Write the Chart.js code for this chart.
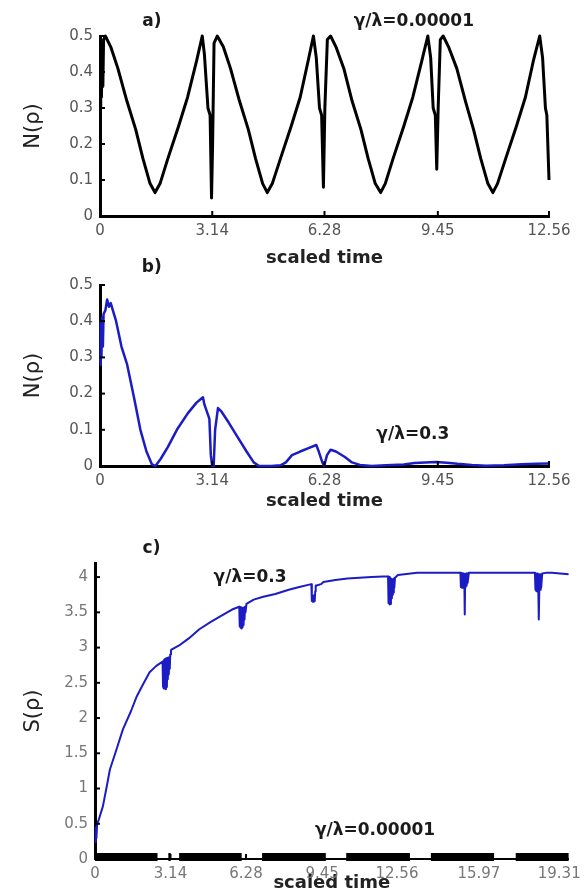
<!DOCTYPE html>
<html>
<head>
<meta charset="utf-8">
<script src="https://cdn.jsdelivr.net/npm/chart.js@4/dist/chart.umd.min.js"></script>
<style>
  html,body{margin:0;padding:0;background:#fff;}
  #wrap{position:relative;width:587px;height:892px;overflow:hidden;background:#fff;}
  canvas{position:absolute;left:0;}
</style>
</head>
<body>
<div id="wrap">
  <canvas id="ca" width="587" height="270" style="top:0px"></canvas>
  <canvas id="cb" width="587" height="260" style="top:255px"></canvas>
  <canvas id="cc" width="587" height="377" style="top:515px"></canvas>
</div>
<script>
// ---------- DATA ----------
// Panel a) gamma/lambda = 0.00001  (scaled time, N(rho))
const tA = [0.00,0.02,0.04,0.06,0.08,0.10,0.15,0.30,0.50,0.75,1.00,1.20,1.40,1.54,1.68,1.90,2.20,2.45,2.70,2.86,2.92,3.02,3.08,3.12,3.15,3.19,3.28,
            3.45,3.65,3.90,4.15,4.35,4.55,4.68,4.82,5.05,5.35,5.60,5.82,5.97,6.05,6.14,6.20,6.25,6.29,6.36,6.45,
            6.60,6.82,7.05,7.30,7.50,7.70,7.85,7.98,8.20,8.50,8.75,9.00,9.17,9.25,9.32,9.38,9.42,9.46,9.52,9.60,
            9.75,9.98,10.22,10.45,10.65,10.85,10.99,11.12,11.35,11.65,11.90,12.12,12.30,12.38,12.46,12.50,12.56];
const nA = [0.30,0.44,0.33,0.47,0.36,0.49,0.50,0.47,0.41,0.32,0.24,0.16,0.09,0.065,0.09,0.16,0.25,0.33,0.43,0.50,0.45,0.30,0.28,0.05,0.20,0.48,0.50,
            0.47,0.41,0.32,0.24,0.16,0.09,0.065,0.09,0.16,0.25,0.33,0.43,0.50,0.44,0.30,0.28,0.08,0.30,0.49,0.50,
            0.47,0.41,0.32,0.24,0.16,0.09,0.065,0.09,0.16,0.25,0.33,0.43,0.50,0.44,0.30,0.28,0.13,0.30,0.49,0.50,
            0.47,0.41,0.32,0.24,0.16,0.09,0.065,0.09,0.16,0.25,0.33,0.43,0.50,0.44,0.30,0.28,0.10];

// Panel b) gamma/lambda = 0.3  (scaled time, N(rho))
const tB = [0.00,0.02,0.04,0.06,0.08,0.10,0.15,0.20,0.25,0.30,0.45,0.60,0.76,0.95,1.13,1.30,1.45,1.55,1.70,1.90,2.15,2.46,2.70,2.88,2.92,3.06,3.10,3.14,3.18,3.22,3.30,3.40,3.60,3.85,4.10,4.30,4.45,4.80,5.05,5.20,5.37,5.60,5.85,6.05,6.12,6.22,6.27,6.35,6.45,6.60,6.85,7.05,7.27,7.60,8.00,8.50,8.80,9.10,9.40,9.70,10.00,10.40,10.80,11.30,11.80,12.20,12.56];
const nB = [0.28,0.40,0.30,0.41,0.33,0.42,0.43,0.46,0.44,0.45,0.40,0.33,0.28,0.19,0.10,0.04,0.005,0.0,0.02,0.053,0.10,0.146,0.175,0.19,0.17,0.13,0.03,0.0,0.0,0.10,0.16,0.15,0.12,0.08,0.04,0.01,0.0,0.0,0.002,0.01,0.03,0.04,0.05,0.058,0.04,0.01,0.0,0.03,0.045,0.04,0.025,0.01,0.003,0.0,0.002,0.004,0.008,0.010,0.011,0.009,0.006,0.003,0.001,0.002,0.005,0.006,0.007];

// Panel c) S(rho), gamma/lambda = 0.3 (blue)
const tC = [0.00,0.03,0.06,0.09,0.15,0.33,0.50,0.62,0.90,1.16,1.50,1.74,2.00,2.27,2.55,
            2.81,2.83,2.85,2.87,2.89,2.91,2.93,2.95,2.97,2.99,3.01,3.03,3.05,3.07,3.09,3.11,3.13,3.16,3.18,
            3.50,3.90,4.34,4.80,5.30,5.70,
            6.00,6.02,6.04,6.06,6.08,6.10,6.12,6.14,6.16,6.18,6.20,6.22,6.24,6.26,6.30,
            6.60,7.00,7.50,8.06,8.50,
            9.00,9.02,9.04,9.06,9.08,9.10,9.12,9.14,9.16,9.18,9.22,
            9.40,9.50,10.00,10.50,11.00,11.50,12.00,
            12.19,12.21,12.23,12.25,12.27,12.29,12.31,12.33,12.35,12.37,12.39,12.41,12.43,12.45,12.48,12.60,
            13.40,14.50,
            15.20,15.22,15.24,15.26,15.28,15.30,15.32,15.34,15.36,15.38,15.40,15.42,15.44,15.46,15.48,15.50,15.55,
            16.50,17.50,
            18.30,18.32,18.34,18.36,18.38,18.40,18.42,18.44,18.46,18.48,18.50,18.52,18.54,18.56,18.60,18.75,
            19.00,19.70];
const sC = [0.24,0.45,0.30,0.50,0.55,0.75,1.05,1.27,1.56,1.84,2.10,2.31,2.48,2.65,2.74,
            2.80,2.45,2.82,2.42,2.83,2.42,2.84,2.41,2.85,2.44,2.85,2.55,2.86,2.62,2.86,2.70,2.90,2.96,2.97,
            3.03,3.13,3.26,3.36,3.46,3.54,
            3.58,3.30,3.57,3.28,3.57,3.27,3.56,3.29,3.56,3.32,3.57,3.40,3.58,3.50,3.62,
            3.68,3.72,3.76,3.82,3.86,
            3.90,3.66,3.74,3.65,3.74,3.65,3.74,3.66,3.80,3.88,3.88,
            3.90,3.93,3.96,3.98,3.99,4.00,4.01,
            4.01,3.63,4.00,3.61,3.99,3.62,3.98,3.70,3.97,3.75,3.97,3.78,3.98,3.85,3.99,4.03,
            4.06,4.06,
            4.06,3.86,4.05,3.85,4.05,3.85,4.05,3.86,4.04,3.47,4.04,3.86,4.05,3.88,4.05,3.92,4.06,
            4.06,4.06,
            4.06,3.82,4.05,3.80,4.05,3.80,4.05,3.81,3.40,3.82,4.04,3.82,4.04,3.85,4.05,4.06,
            4.06,4.04];

// Panel c) S(rho), gamma/lambda = 0.00001 (black band near zero; null = gap)
const tK = [0.0,2.6,2.8,3.05,3.15,3.3,3.5,6.1,6.5,6.95,9.6,10.0,10.45,13.1,13.5,13.97,16.6,17.0,17.5,19.7];
const sK = [0.03,0.03,null,0.03,0.03,null,0.03,0.03,null,0.03,0.03,null,0.03,0.03,null,0.03,0.03,null,0.03,0.03];

// Tick values and labels
const xTicksAB = [0, 3.14, 6.28, 9.45, 12.56];
const xLabelsAB = ['0', '3.14', '6.28', '9.45', '12.56'];
const yTicksAB = [0, 0.1, 0.2, 0.3, 0.4, 0.5];
const yLabelsAB = ['0', '0.1', '0.2', '0.3', '0.4', '0.5'];
const xTicksC = [0, 3.14, 6.28, 9.45, 12.56, 15.97, 19.31];
const xLabelsC = ['0', '3.14', '6.28', '9.45', '12.56', '15.97', '19.31'];
const yTicksC = [0, 0.5, 1, 1.5, 2, 2.5, 3, 3.5, 4];
const yLabelsC = ['0', '0.5', '1', '1.5', '2', '2.5', '3', '3.5', '4'];

// Text labels (text, anchored at data coordinates)
const notesA = [{text: 'a)', x: 1.45, y: 0.539}, {text: 'γ/λ=0.00001', x: 8.78, y: 0.539}];
const notesB = [{text: 'b)', x: 1.45, y: 0.547}, {text: 'γ/λ=0.3', x: 8.75, y: 0.086}];
const notesC = [{text: 'c)', x: 2.35, y: 4.4}, {text: 'γ/λ=0.3', x: 6.45, y: 4.0}, {text: 'γ/λ=0.00001', x: 11.65, y: 0.40}];

// ---------- RENDERING ----------
const FONT = "'DejaVu Sans', Arial, sans-serif";
const pts = (xs, ys) => xs.map((x, i) => ({x: x, y: ys[i]}));

const notesPlugin = {
  id: 'notes',
  afterDraw(chart, args, opts) {
    const ctx = chart.ctx, xs = chart.scales.x, ys = chart.scales.y;
    ctx.save();
    // inward tick marks
    ctx.strokeStyle = '#000';
    ctx.lineWidth = 2;
    const b = chart.chartArea;
    xs.ticks.forEach(t => {
      if (t.value === 0) return;
      const px = xs.getPixelForValue(t.value);
      ctx.beginPath(); ctx.moveTo(px, b.bottom); ctx.lineTo(px, b.bottom - 5); ctx.stroke();
    });
    ys.ticks.forEach(t => {
      if (t.value === 0) return;
      const py = ys.getPixelForValue(t.value);
      ctx.beginPath(); ctx.moveTo(b.left, py); ctx.lineTo(b.left + 5, py); ctx.stroke();
    });
    // text notes
    (opts.items || []).forEach(n => {
      ctx.font = 'bold ' + (n.size || opts.size || 18) + 'px ' + FONT;
      ctx.fillStyle = opts.color || '#222';
      ctx.textAlign = 'center';
      ctx.textBaseline = 'middle';
      ctx.fillText(n.text, xs.getPixelForValue(n.x), ys.getPixelForValue(n.y));
    });
    ctx.restore();
  }
};

function makeChart(id, cfg) {
  const xTicks = cfg.xTicks, xLabels = cfg.xLabels, yTicks = cfg.yTicks, yLabels = cfg.yLabels;
  return new Chart(document.getElementById(id), {
    type: 'line',
    data: {datasets: cfg.datasets},
    options: {
      responsive: false,
      animation: false,
      devicePixelRatio: 1,
      layout: {padding: cfg.padding},
      plugins: {legend: {display: false}, tooltip: {enabled: false}, title: {display: false},
                notes: {items: cfg.notes, size: cfg.noteSize, color: cfg.noteColor}},
      elements: {point: {radius: 0}, line: {tension: 0, borderJoinStyle: 'round'}},
      scales: {
        x: {
          type: 'linear', min: cfg.xMin, max: cfg.xMax,
          afterBuildTicks: s => { s.ticks = xTicks.map(v => ({value: v})); },
          afterFit: s => { s.height = cfg.xHeight; },
          grid: {display: false, drawTicks: false},
          border: {display: true, color: '#000', width: cfg.xBorder},
          ticks: {autoSkip: false, maxRotation: 0, padding: 6, color: cfg.tickColor,
                  font: {family: FONT, size: 15},
                  callback: (v, i) => xLabels[i]},
          title: {display: true, text: 'scaled time', color: '#222', padding: {top: 0, bottom: 0},
                  font: {family: FONT, size: 18, weight: 'bold', lineHeight: 1.0}}
        },
        y: {
          type: 'linear', min: cfg.yMin, max: cfg.yMax,
          afterBuildTicks: s => { s.ticks = yTicks.map(v => ({value: v})); },
          afterFit: s => { s.width = cfg.yWidth; },
          grid: {display: false, drawTicks: false},
          border: {display: true, color: '#000', width: 3},
          ticks: {autoSkip: false, padding: 7, color: cfg.tickColor,
                  font: {family: FONT, size: 15},
                  callback: (v, i) => yLabels[i]},
          title: {display: true, text: cfg.yTitle, color: '#222', padding: {top: 23, bottom: 0},
                  font: {family: FONT, size: 21, lineHeight: 1.0}}
        }
      }
    },
    plugins: [notesPlugin]
  });
}

makeChart('ca', {
  datasets: [{data: pts(tA, nA), borderColor: '#000', borderWidth: 3, clip: false}],
  padding: {left: 0, right: 38, top: 36, bottom: 3},
  xMin: 0, xMax: 12.56, yMin: 0, yMax: 0.5,
  xTicks: xTicksAB, xLabels: xLabelsAB, yTicks: yTicksAB, yLabels: yLabelsAB,
  xHeight: 51, yWidth: 100, xBorder: 3, tickColor: '#555',
  yTitle: 'N(ρ)', notes: notesA, noteSize: 17, noteColor: '#1a1a1a'
});

makeChart('cb', {
  datasets: [{data: pts(tB, nB), borderColor: '#1c1cc4', borderWidth: 2.5, clip: false}],
  padding: {left: 0, right: 38, top: 30, bottom: 5},
  xMin: 0, xMax: 12.56, yMin: 0, yMax: 0.5,
  xTicks: xTicksAB, xLabels: xLabelsAB, yTicks: yTicksAB, yLabels: yLabelsAB,
  xHeight: 44, yWidth: 100, xBorder: 3, tickColor: '#555',
  yTitle: 'N(ρ)', notes: notesB, noteSize: 17, noteColor: '#1a1a1a'
});

makeChart('cc', {
  datasets: [
    {data: pts(tK, sK), borderColor: '#000', borderWidth: 8, borderCapStyle: 'butt', spanGaps: false, clip: false},
    {data: pts(tC, sC), borderColor: '#1c1cc4', borderWidth: 2, clip: false}
  ],
  padding: {left: 0, right: 15, top: 48, bottom: 0},
  xMin: 0, xMax: 19.7, yMin: 0, yMax: 4.2,
  xTicks: xTicksC, xLabels: xLabelsC, yTicks: yTicksC, yLabels: yLabelsC,
  xHeight: 33, yWidth: 95, xBorder: 2, tickColor: '#777',
  yTitle: 'S(ρ)', notes: notesC, noteSize: 17, noteColor: '#1a1a1a'
});
</script>
</body>
</html>
